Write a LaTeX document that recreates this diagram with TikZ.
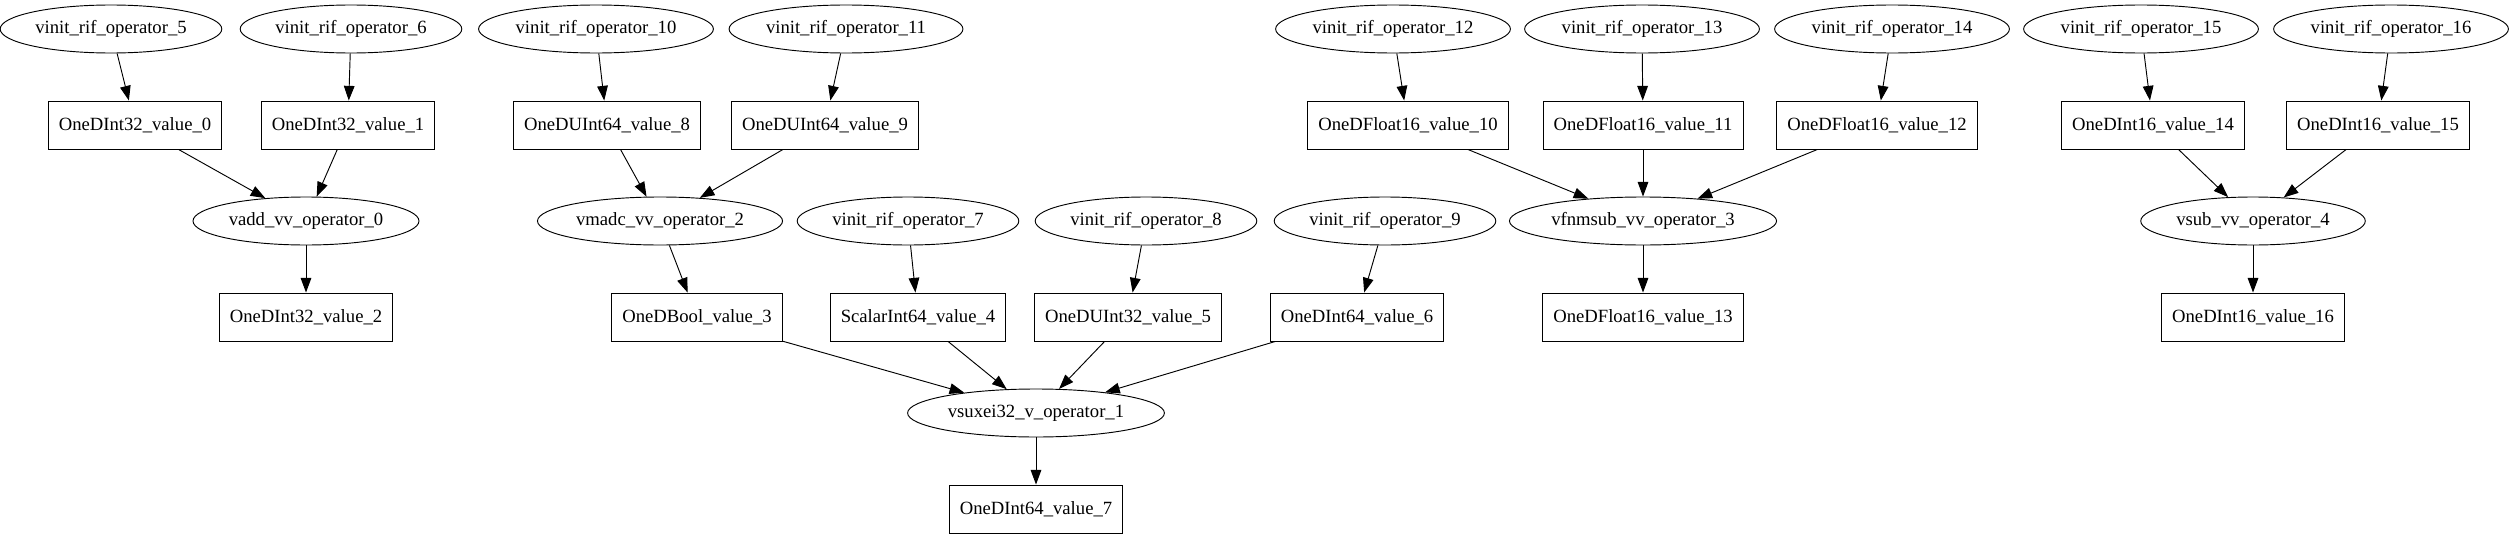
\documentclass[tikz,border=0pt]{standalone}
\usepackage{fontspec}
\setmainfont{Liberation Serif}
\usetikzlibrary{arrows.meta,shapes.geometric}

\begin{document}
\begin{tikzpicture}[x=0.75pt,y=-0.75pt,
    font=\fontsize{14}{16}\selectfont,
    oper/.style={draw,ellipse,line width=0.7pt,inner xsep=2pt,inner ysep=0pt,minimum height=36pt},
    val/.style={draw,rectangle,line width=0.7pt,inner xsep=8pt,inner ysep=0pt,minimum height=36pt},
    edge/.style={line width=0.7pt,-{Triangle[length=11pt,width=8pt]}}]
     \useasboundingbox (0,0) rectangle (2509,539);
     % inits
     \node[oper] (init5) at (111,29) {vinit\_rif\_operator\_5};
     \node[oper] (init6) at (351,29) {vinit\_rif\_operator\_6};
     \node[oper] (init10) at (596,29) {vinit\_rif\_operator\_10};
     \node[oper] (init11) at (846,29) {vinit\_rif\_operator\_11};
     \node[oper] (init12) at (1393,29) {vinit\_rif\_operator\_12};
     \node[oper] (init13) at (1642,29) {vinit\_rif\_operator\_13};
     \node[oper] (init14) at (1892,29) {vinit\_rif\_operator\_14};
     \node[oper] (init15) at (2141,29) {vinit\_rif\_operator\_15};
     \node[oper] (init16) at (2391,29) {vinit\_rif\_operator\_16};
     \node[oper] (init7) at (908,221) {vinit\_rif\_operator\_7};
     \node[oper] (init8) at (1146,221) {vinit\_rif\_operator\_8};
     \node[oper] (init9) at (1385,221) {vinit\_rif\_operator\_9};
     % values
     \node[val] (val0) at (135,125) {OneDInt32\_value\_0};
     \node[val] (val1) at (348,125) {OneDInt32\_value\_1};
     \node[val] (val8) at (607,125) {OneDUInt64\_value\_8};
     \node[val] (val9) at (825,125) {OneDUInt64\_value\_9};
     \node[val] (val10) at (1408,125) {OneDFloat16\_value\_10};
     \node[val] (val11) at (1643,125) {OneDFloat16\_value\_11};
     \node[val] (val12) at (1877,125) {OneDFloat16\_value\_12};
     \node[val] (val14) at (2153,125) {OneDInt16\_value\_14};
     \node[val] (val15) at (2378,125) {OneDInt16\_value\_15};
     \node[val] (val2) at (306,317) {OneDInt32\_value\_2};
     \node[val] (val3) at (697,317) {OneDBool\_value\_3};
     \node[val] (val4) at (918,317) {ScalarInt64\_value\_4};
     \node[val] (val5) at (1128,317) {OneDUInt32\_value\_5};
     \node[val] (val6) at (1357,317) {OneDInt64\_value\_6};
     \node[val] (val13) at (1643,317) {OneDFloat16\_value\_13};
     \node[val] (val16) at (2253,317) {OneDInt16\_value\_16};
     \node[val] (val7) at (1036,509) {OneDInt64\_value\_7};
     % operators
     \node[oper] (op0) at (306,221) {vadd\_vv\_operator\_0};
     \node[oper] (op2) at (660,221) {vmadc\_vv\_operator\_2};
     \node[oper] (op3) at (1643,221) {vfnmsub\_vv\_operator\_3};
     \node[oper] (op4) at (2253,221) {vsub\_vv\_operator\_4};
     \node[oper] (op1) at (1036,413) {vsuxei32\_v\_operator\_1};
     % edges
     \draw[edge] (init5) -- (val0);
     \draw[edge] (init6) -- (val1);
     \draw[edge] (val0) -- (op0);
     \draw[edge] (val1) -- (op0);
     \draw[edge] (op0) -- (val2);
     \draw[edge] (init10) -- (val8);
     \draw[edge] (init11) -- (val9);
     \draw[edge] (val8) -- (op2);
     \draw[edge] (val9) -- (op2);
     \draw[edge] (op2) -- (val3);
     \draw[edge] (init7) -- (val4);
     \draw[edge] (init8) -- (val5);
     \draw[edge] (init9) -- (val6);
     \draw[edge] (val3) -- (op1);
     \draw[edge] (val4) -- (op1);
     \draw[edge] (val5) -- (op1);
     \draw[edge] (val6) -- (op1);
     \draw[edge] (op1) -- (val7);
     \draw[edge] (init12) -- (val10);
     \draw[edge] (init13) -- (val11);
     \draw[edge] (init14) -- (val12);
     \draw[edge] (val10) -- (op3);
     \draw[edge] (val11) -- (op3);
     \draw[edge] (val12) -- (op3);
     \draw[edge] (op3) -- (val13);
     \draw[edge] (init15) -- (val14);
     \draw[edge] (init16) -- (val15);
     \draw[edge] (val14) -- (op4);
     \draw[edge] (val15) -- (op4);
     \draw[edge] (op4) -- (val16);
\end{tikzpicture}
\end{document}
